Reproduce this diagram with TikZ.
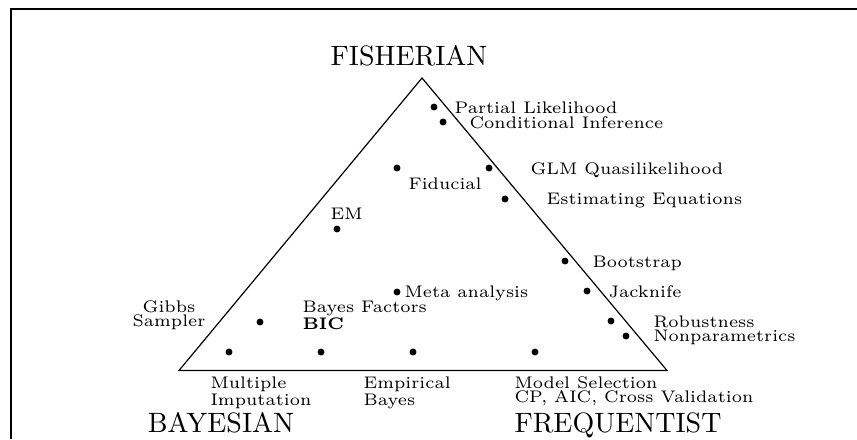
\documentclass[tikz,border=0pt]{standalone}
\usepackage{tikz}
\usetikzlibrary{positioning}

\begin{document}
\begin{tikzpicture}[x=0.375pt, y=-0.375pt,
    dot/.style={circle, fill=black, inner sep=0pt, minimum size=2.6pt},
    lbl/.style={anchor=north west, inner sep=0pt, align=left, font=\fontsize{6.3}{5.45}\selectfont},
    school/.style={anchor=base, inner sep=0pt, font=\fontsize{10.5}{12}\selectfont}]
    \useasboundingbox (0,0) rectangle (857,439);
    % frame
    \draw[line width=0.75pt] (10.5,439) -- (10.5,9) -- (857,9);

    % triangle corners
    \coordinate (fisher) at (422,78);
    \coordinate (bayes) at (179,370.5);
    \coordinate (freq) at (667,370.5);
    \draw[line width=0.45pt] (fisher) -- (bayes) -- (freq) -- cycle;

    % the three schools
    \node[school] (tFisher) at (409,65) {FISHERIAN};
    \node[school] (tBayes) at (221,432) {BAYESIAN};
    \node[school] (tFreq) at (618,432) {FREQUENTIST};

    % methods near the Fisherian corner
    \node[dot] (dPartial) at (434,107) {};
    \node[lbl] (tPartial) at (454,101) {Partial Likelihood};
    \node[dot] (dCond) at (443,122) {};
    \node[lbl] (tCond) at (469,116) {Conditional Inference};
    \node[dot] (dFid) at (397,168) {};
    \node[lbl] (tFid) at (408,177) {Fiducial};
    \node[dot] (dGLM) at (489,168) {};
    \node[lbl] (tGLM) at (530,162) {GLM Quasilikelihood};
    \node[dot] (dEst) at (505,199) {};
    \node[lbl] (tEst) at (546,193) {Estimating Equations};
    \node[dot] (dEM) at (337,229) {};
    \node[lbl] (tEM) at (330,207) {EM};

    % middle
    \node[dot] (dBoot) at (565,261) {};
    \node[lbl] (tBoot) at (592,255) {Bootstrap};
    \node[dot] (dMeta) at (397,292) {};
    \node[lbl] (tMeta) at (404,285) {Meta analysis};
    \node[dot] (dJack) at (587,291) {};
    \node[lbl] (tJack) at (608,285) {Jacknife};
    \node[dot] (dGibbs) at (260,322) {};
    \node[lbl, anchor=north, align=center] (tGibbs) at (169,300) {Gibbs\\Sampler};
    \node[lbl] (tBIC) at (302,300) {Bayes Factors\\\textbf{BIC}};
    \node[dot] (dRob) at (611,321) {};
    \node[dot] (dNonpar) at (626,336) {};
    \node[lbl] (tRob) at (653,315) {Robustness\\Nonparametrics};

    % bottom row
    \node[dot] (dMult) at (229,352) {};
    \node[dot] (dBIC) at (321,352) {};
    \node[dot] (dEmp) at (413,352) {};
    \node[dot] (dModel) at (535,352) {};
    \node[lbl] (tMult) at (210,376) {Multiple\\Imputation};
    \node[lbl] (tEmp) at (363,376) {Empirical\\Bayes};
    \node[lbl] (tModel) at (514,376) {Model Selection\\CP, AIC, Cross Validation};
\end{tikzpicture}
\end{document}
